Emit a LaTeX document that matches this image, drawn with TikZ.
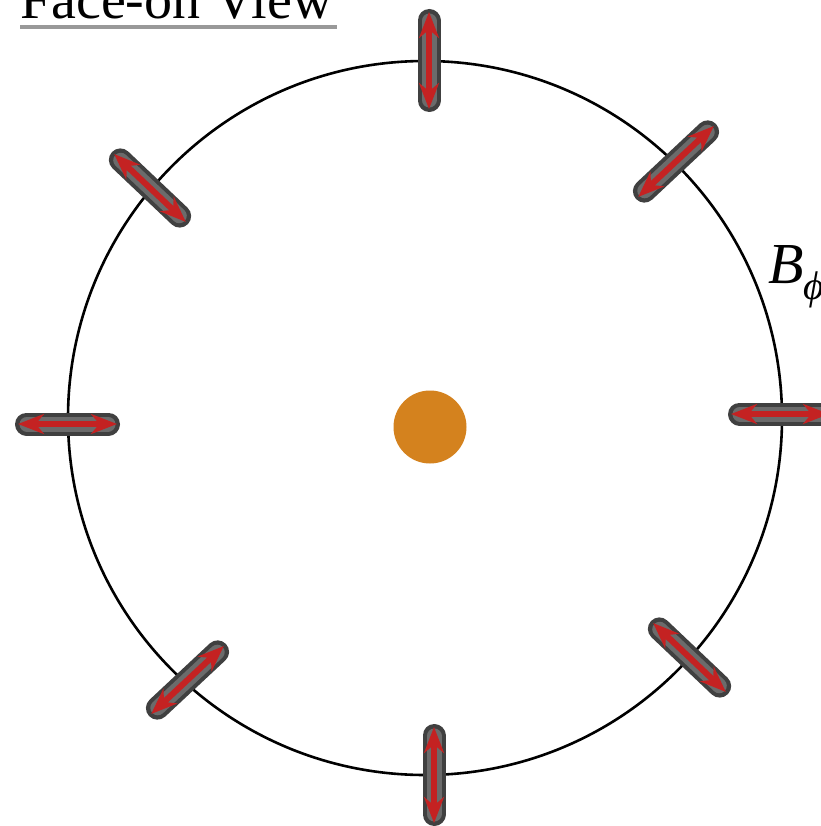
\documentclass[tikz,border=0pt]{standalone}
\usepackage{fontspec}
\setmainfont{Liberation Serif}
\usetikzlibrary{arrows.meta}
\definecolor{dotorange}{HTML}{D4821E}
\definecolor{arrowred}{HTML}{C42222}
\tikzset{
  barouter/.style={line width=23pt, line cap=round, draw=black!75, shorten <=11.5pt, shorten >=11.5pt},
  barinner/.style={line width=15pt, line cap=round, draw=black!58, shorten <=12pt, shorten >=12pt},
  fieldarrow/.style={line width=6pt, draw=arrowred, shorten <=3pt, shorten >=3pt,
     arrows={Stealth[length=26pt,width=20pt]-Stealth[length=26pt,width=20pt]}},
  ring/.style={line width=2.6pt, draw=black},
  titletext/.style={font=\fontsize{56}{60}\selectfont, inner sep=0pt, anchor=base west},
  labeltext/.style={inner sep=0pt, anchor=base west, font=\fontsize{58}{60}\selectfont}
}
\newcommand{\fieldbar}[2]{%
  \draw[barouter] (#1) -- (#2);
  \draw[barinner] (#1) -- (#2);
  \draw[fieldarrow] (#1) -- (#2);
}
\begin{document}
\begin{tikzpicture}[x=1pt,y=-1pt]
\useasboundingbox (0,0) rectangle (820,826);
\fill[white] (0,0) rectangle (820,826);
% ring and central object
\coordinate (c) at (425,418);
\draw[ring] (c) circle[radius=357pt];
\node[circle, fill=dotorange, minimum size=73pt, inner sep=0pt] (dot) at (430,427) {};
% bar end points
\coordinate (t1) at (429,9);  \coordinate (t2) at (429,112);
\coordinate (b1) at (434,724); \coordinate (b2) at (434,826);
\coordinate (l1) at (15,424);  \coordinate (l2) at (120,424);
\coordinate (r1) at (728,414); \coordinate (r2) at (832,414);
\coordinate (ur1) at (636,199); \coordinate (ur2) at (716,124);
\coordinate (ul1) at (112,152); \coordinate (ul2) at (188,224);
\coordinate (ll1) at (149,716); \coordinate (ll2) at (226,644);
\coordinate (lr1) at (651,621); \coordinate (lr2) at (728,694);
\fieldbar{t1}{t2}
\fieldbar{b1}{b2}
\fieldbar{l1}{l2}
\fieldbar{r1}{r2}
\fieldbar{ur1}{ur2}
\fieldbar{ul1}{ul2}
\fieldbar{ll1}{ll2}
\fieldbar{lr1}{lr2}
% title
\node[titletext] (title) at (20,19) {Face-on View};
\draw[line width=4pt, draw=black!40] (20,27) -- (337,27);
% label
\node[labeltext] (bphi) at (768,283) {\textit{B}\raisebox{-0.28em}{\fontsize{40}{40}\selectfont\textit{ϕ}}};
\end{tikzpicture}
\end{document}
